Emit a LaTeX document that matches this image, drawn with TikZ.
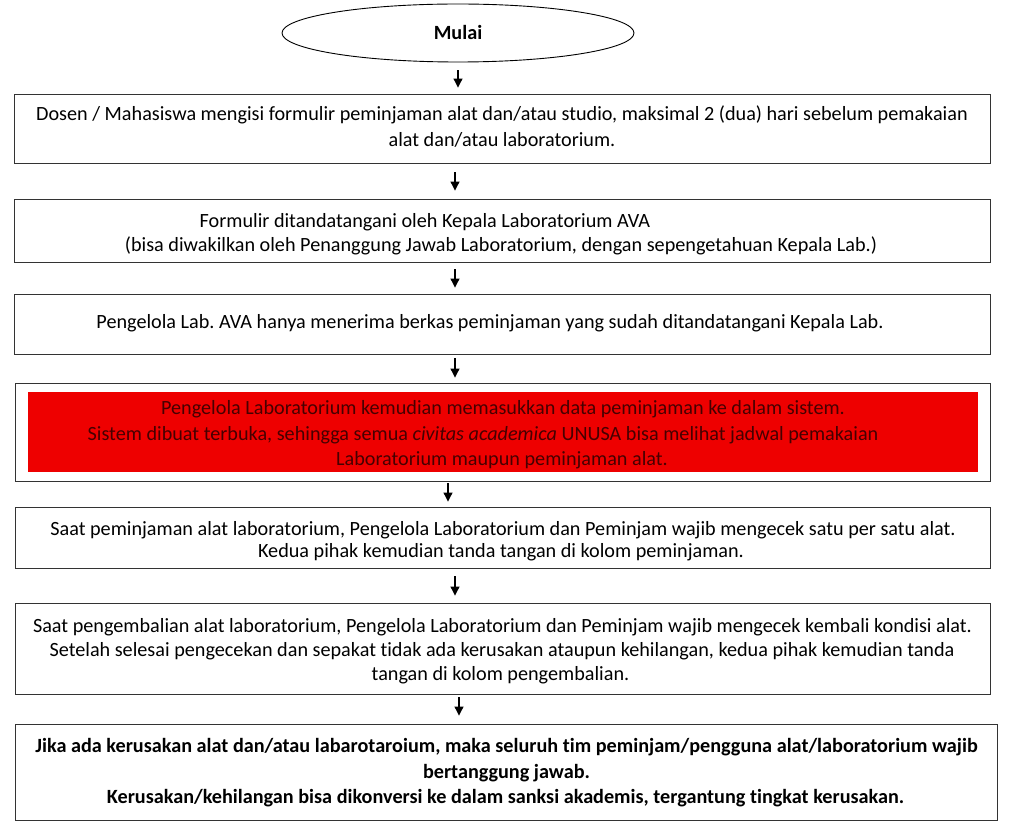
\documentclass[tikz,border=0pt]{standalone}
\usepackage{fontspec}
\setmainfont[Ligatures=NoCommon]{Carlito}
\frenchspacing
\usetikzlibrary{shapes.geometric,arrows.meta}
\definecolor{boxred}{RGB}{238,0,0}
\definecolor{redtext}{RGB}{70,0,0}
\tikzset{
  box/.style={draw=black!80, line width=0.9pt, fill=white, inner sep=0pt},
  txt/.style={inner sep=0pt, anchor=base, font=\fontsize{20.2}{24}\selectfont},
  btxt/.style={txt, font=\fontsize{20.2}{24}\selectfont\bfseries},
  arr/.style={line width=1.1pt, -{Triangle[length=9pt,width=9pt]}}
}
\begin{document}
\begin{tikzpicture}[x=1pt,y=-1pt]
\useasboundingbox (0,0) rectangle (1009,826);
% start
\node[draw, ellipse, line width=0.9pt, minimum width=352pt, minimum height=58pt, inner sep=0pt] (start) at (458,33) {};
\node[btxt] (tstart) at (458,39.5) {Mulai};
% boxes
\node[box, minimum width=976pt, minimum height=69pt] (b1) at (502,128.5) {};
\node[box, minimum width=976pt, minimum height=63pt] (b2) at (502,230.5) {};
\node[box, minimum width=976pt, minimum height=60pt] (b3) at (502,324) {};
\node[box, minimum width=975pt, minimum height=98pt] (b4) at (502.5,432) {};
\node[draw=none, fill=boxred, minimum width=950pt, minimum height=80pt, inner sep=0pt] (red) at (503,432) {};
\node[box, minimum width=975pt, minimum height=61pt] (b5) at (502.5,537.5) {};
\node[box, minimum width=975pt, minimum height=91pt] (b6) at (502.5,648.5) {};
\node[box, minimum width=982pt, minimum height=96pt] (b7) at (506,772) {};
% texts
\node[txt] (t1a) at (502,121) {Dosen / Mahasiswa mengisi formulir peminjaman alat dan/atau studio, maksimal 2 (dua) hari sebelum pemakaian};
\node[txt] (t1b) at (502,147) {alat dan/atau laboratorium.};
\node[txt] (t2a) at (425,228) {Formulir ditandatangani oleh Kepala Laboratorium AVA};
\node[txt] (t2b) at (501,252) {(bisa diwakilkan oleh Penanggung Jawab Laboratorium, dengan sepengetahuan Kepala Lab.)};
\node[txt] (t3) at (490,328) {Pengelola Lab. AVA hanya menerima berkas peminjaman yang sudah ditandatangani Kepala Lab.};
\node[txt, text=redtext] (t4a) at (503,414) {Pengelola Laboratorium kemudian memasukkan data peminjaman ke dalam sistem.};
\node[txt, text=redtext] (t4b) at (483,440) {Sistem dibuat terbuka, sehingga semua \textit{civitas academica} UNUSA bisa melihat jadwal pemakaian};
\node[txt, text=redtext] (t4c) at (502,465) {Laboratorium maupun peminjaman alat.};
\node[txt] (t5a) at (503,535) {Saat peminjaman alat laboratorium, Pengelola Laboratorium dan Peminjam wajib mengecek satu per satu alat.};
\node[txt] (t5b) at (501,557) {Kedua pihak kemudian tanda tangan di kolom peminjaman.};
\node[txt] (t6a) at (502.5,632) {Saat pengembalian alat laboratorium, Pengelola Laboratorium dan Peminjam wajib mengecek kembali kondisi alat.};
\node[txt] (t6b) at (502,656) {Setelah selesai pengecekan dan sepakat tidak ada kerusakan ataupun kehilangan, kedua pihak kemudian tanda};
\node[txt] (t6c) at (500.5,680) {tangan di kolom pengembalian.};
\node[btxt] (t7a) at (506.5,752) {Jika ada kerusakan alat dan/atau labarotaroium, maka seluruh tim peminjam/pengguna alat/laboratorium wajib};
\node[btxt] (t7b) at (506.5,778) {bertanggung jawab.};
\node[btxt] (t7c) at (505.5,803) {Kerusakan/kehilangan bisa dikonversi ke dalam sanksi akademis, tergantung tingkat kerusakan.};
% arrows
\draw[arr, shorten <=8pt, shorten >=6pt] (start.south -| 458,0) -- (b1.north -| 458,0);
\draw[arr, shorten <=9pt, shorten >=8pt] (b1.south -| 455,0) -- (b2.north -| 455,0);
\draw[arr, shorten <=7pt, shorten >=6pt] (b2.south -| 455,0) -- (b3.north -| 455,0);
\draw[arr, shorten <=4pt, shorten >=5pt] (b3.south -| 455,0) -- (b4.north -| 455,0);
\draw[arr, shorten <=2pt, shorten >=5pt] (b4.south -| 448,0) -- (b5.north -| 448,0);
\draw[arr, shorten <=8pt, shorten >=7pt] (b5.south -| 455,0) -- (b6.north -| 455,0);
\draw[arr, shorten <=3pt, shorten >=8pt] (b6.south -| 459,0) -- (b7.north -| 459,0);
\end{tikzpicture}
\end{document}
